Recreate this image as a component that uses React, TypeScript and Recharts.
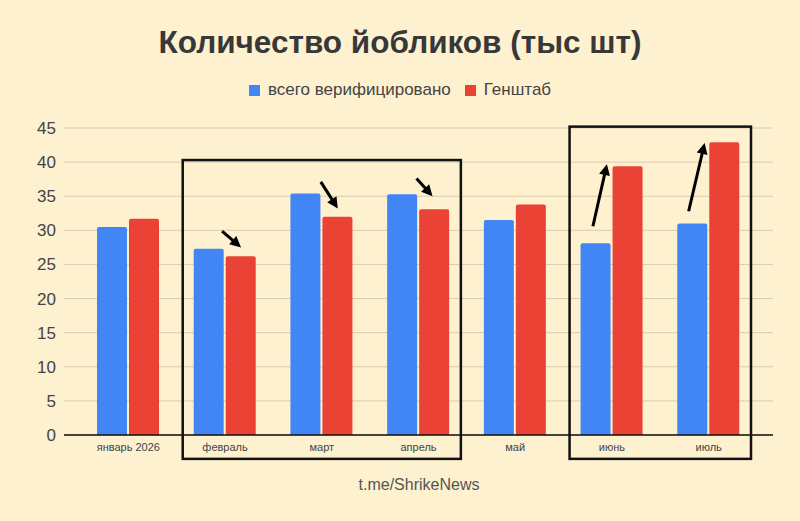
import { Bar, BarChart, CartesianGrid, ReferenceArea, ReferenceLine, XAxis, YAxis } from 'recharts';

// Месяцы и значения (тыс шт)
const MONTHS = ['январь 2026', 'февраль', 'март', 'апрель', 'май', 'июнь', 'июль'];
const VERIFIED = [30.5, 27.3, 35.4, 35.3, 31.5, 28.1, 31.0];
const GENSHTAB = [31.7, 26.2, 32.0, 33.1, 33.8, 39.4, 42.9];
const SERIES = ['всего верифицировано', 'Генштаб'];
const COLORS = ['#4285F4', '#EA4335'];
const Y_TICKS = [0, 5, 10, 15, 20, 25, 30, 35, 40, 45];

// Рамки вокруг групп месяцев (в единицах оси Y)
const BOXES = [
  { from: 'февраль', to: 'апрель', top: 40.3, bottom: -3.5 },
  { from: 'июнь', to: 'июль', top: 45.2, bottom: -3.5 },
];

// Стрелки: месяц, начало/конец по оси Y, сдвиг от центра месяца
const ARROWS = [
  { month: 'февраль', from: 29.9, to: 27.5, dx1: -3, dx2: 16 },
  { month: 'март', from: 37.1, to: 33.2, dx1: -1, dx2: 16 },
  { month: 'апрель', from: 37.6, to: 35.0, dx1: -2, dx2: 14 },
  { month: 'июнь', from: 30.6, to: 39.7, dx1: -19, dx2: -5 },
  { month: 'июль', from: 32.8, to: 42.8, dx1: -20, dx2: -4 },
];

const BG = '#FEF1D0';
const FONT = 'Arial, "Liberation Sans", sans-serif';

const data = MONTHS.map((m, i) => ({ month: m, verified: VERIFIED[i], genshtab: GENSHTAB[i] }));

function BoxShape(props: any) {
  const { x, y, width, height } = props;
  const inset = 6;
  return (
    <rect
      x={x + inset}
      y={y}
      width={width - inset * 2}
      height={height}
      fill="none"
      stroke="#111"
      strokeWidth={2.5}
    />
  );
}

function ArrowShape(props: any) {
  const { x1, y1, x2, y2, dx1, dx2 } = props;
  const sx = x1 + dx1;
  const ex = x2 + dx2;
  const ang = Math.atan2(y2 - y1, ex - sx);
  const len = 11;
  const half = 5.5;
  const ux = Math.cos(ang);
  const uy = Math.sin(ang);
  const bx = ex - ux * len;
  const by = y2 - uy * len;
  const pts = `${ex},${y2} ${bx - uy * half},${by + ux * half} ${bx + uy * half},${by - ux * half}`;
  return (
    <g>
      <line x1={sx} y1={y1} x2={bx + ux * 2} y2={by + uy * 2} stroke="#000" strokeWidth={3} />
      <polygon points={pts} fill="#000" />
    </g>
  );
}

export default function App() {
  return (
    <div
      style={{
        position: 'absolute',
        left: 0,
        top: 0,
        width: 800,
        height: 521,
        background: BG,
        fontFamily: FONT,
      }}
    >
      <div
        style={{
          position: 'absolute',
          top: 24,
          width: 800,
          textAlign: 'center',
          fontSize: 31.5,
          fontWeight: 'bold',
          color: '#383838',
        }}
      >
        Количество йобликов (тыс шт)
      </div>
      <div
        style={{
          position: 'absolute',
          top: 80,
          width: 800,
          display: 'flex',
          justifyContent: 'center',
          alignItems: 'center',
          fontSize: 17,
          color: '#444',
        }}
      >
        {SERIES.map((s, i) => (
          <span key={s} style={{ display: 'flex', alignItems: 'center', marginRight: i === 0 ? 14 : 0 }}>
            <span
              style={{ display: 'inline-block', width: 11, height: 11, background: COLORS[i], marginRight: 8 }}
            />
            {s}
          </span>
        ))}
      </div>
      <div style={{ position: 'absolute', top: 0, left: 0 }}>
        <BarChart
          width={800}
          height={521}
          data={data}
          margin={{ top: 128, right: 27, bottom: 56, left: 0 }}
          barSize={30}
          barGap={2}
        >
          <CartesianGrid vertical={false} stroke="#D9CDAE" />
          <XAxis
            dataKey="month"
            height={30}
            padding={{ left: 16, right: 16 }}
            tickLine={false}
            axisLine={{ stroke: '#111', strokeWidth: 1.5 }}
            tick={{ fontSize: 11, fill: '#444', fontFamily: FONT }}
            interval={0}
          />
          <YAxis
            width={64}
            domain={[0, 45]}
            ticks={Y_TICKS}
            tickLine={false}
            axisLine={false}
            tick={{ fontSize: 17, fill: '#444', fontFamily: FONT }}
          />
          <Bar dataKey="verified" name={SERIES[0]} fill={COLORS[0]} radius={[2, 2, 0, 0]} isAnimationActive={false} />
          <Bar dataKey="genshtab" name={SERIES[1]} fill={COLORS[1]} radius={[2, 2, 0, 0]} isAnimationActive={false} />
          {BOXES.map((b) => (
            <ReferenceArea
              key={b.from}
              x1={b.from}
              x2={b.to}
              y1={b.bottom}
              y2={b.top}
              ifOverflow="visible"
              shape={<BoxShape />}
            />
          ))}
          {ARROWS.map((a) => (
            <ReferenceLine
              key={a.month}
              segment={[
                { x: a.month, y: a.from },
                { x: a.month, y: a.to },
              ]}
              ifOverflow="visible"
              shape={(p: any) => <ArrowShape {...p} dx1={a.dx1} dx2={a.dx2} />}
            />
          ))}
        </BarChart>
      </div>
      <div
        style={{
          position: 'absolute',
          top: 476,
          width: 838,
          textAlign: 'center',
          fontSize: 16,
          color: '#555',
        }}
      >
        t.me/ShrikeNews
      </div>
    </div>
  );
}
